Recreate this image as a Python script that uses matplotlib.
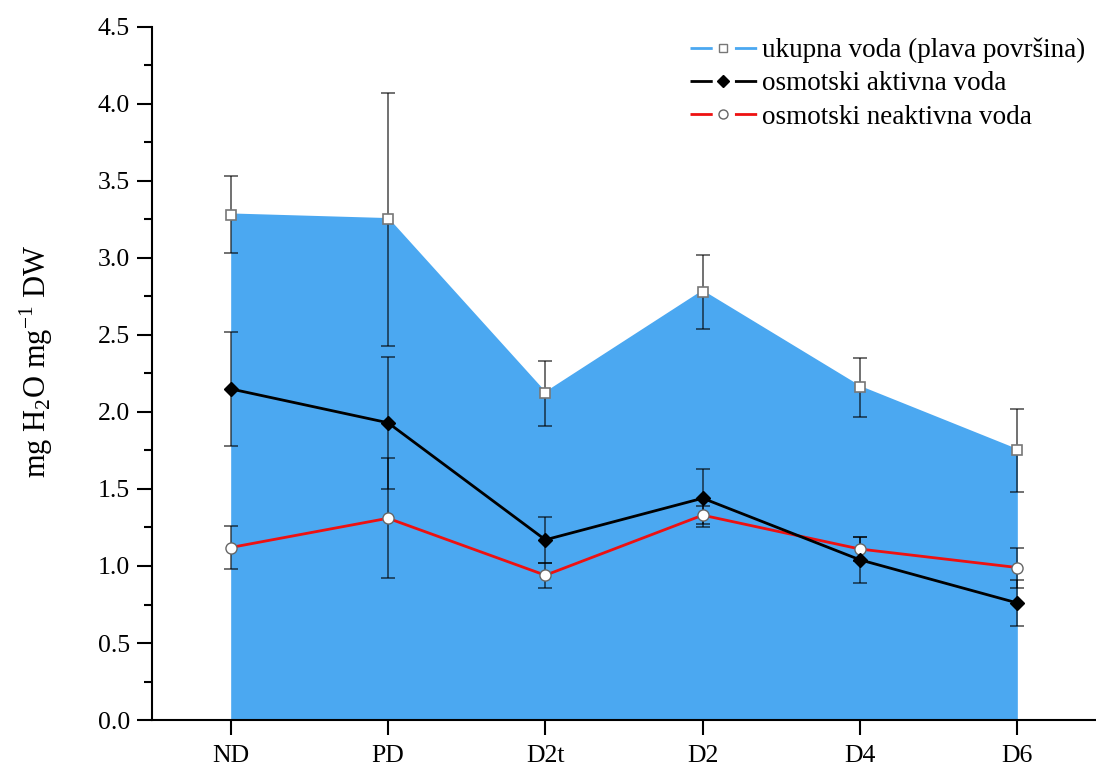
import numpy as np
import matplotlib
matplotlib.use("Agg")
import matplotlib.pyplot as plt
from matplotlib.ticker import MultipleLocator, FormatStrFormatter
from matplotlib.lines import Line2D

plt.rcParams['font.family'] = ['Liberation Serif', 'DejaVu Serif']
plt.rcParams['mathtext.fontset'] = 'custom'
plt.rcParams['mathtext.rm'] = 'Liberation Serif'

# dati
categorie = ["ND", "PD", "D2t", "D2", "D4", "D6"]
ukupna = [3.28, 3.25, 2.12, 2.78, 2.16, 1.75]
ukupna_err = [0.25, 0.82, 0.21, 0.24, 0.19, 0.27]
aktivna = [2.15, 1.93, 1.17, 1.44, 1.04, 0.76]
aktivna_err = [0.37, 0.43, 0.15, 0.19, 0.15, 0.15]
neaktivna = [1.12, 1.31, 0.94, 1.33, 1.11, 0.99]
neaktivna_err = [0.14, 0.39, 0.08, 0.06, 0.08, 0.13]

x = np.arange(len(categorie))
plava = "#4BA8F1"
crvena = "#ee1111"

fig = plt.figure(figsize=(10.96, 7.65), dpi=100)
ax = fig.add_axes([0.1387, 0.0588, 0.8613, 0.906])

ax.fill_between(x, 0, ukupna, color=plava, lw=0, zorder=1)

eb_kw = dict(fmt="none", ecolor="black", alpha=0.6, elinewidth=1.3,
             capsize=5, capthick=1.3, zorder=2)
ax.errorbar(x, ukupna, yerr=ukupna_err, **eb_kw)
ax.errorbar(x, aktivna, yerr=aktivna_err, **eb_kw)
ax.errorbar(x, neaktivna, yerr=neaktivna_err, **eb_kw)

ax.plot(x, ukupna, color=plava, lw=2, marker="s", ms=7, mfc="white",
        mec="#777777", mew=1.2, zorder=3)
ax.plot(x, aktivna, color="black", lw=2, marker="D", ms=7.5, mfc="black",
        mec="black", zorder=4)
ax.plot(x, neaktivna, color=crvena, lw=2, marker="o", ms=8, mfc="white",
        mec="#666666", mew=1.0, zorder=3)

ax.set_xlim(-0.5, 5.5)
ax.set_ylim(0, 4.5)
ax.set_xticks(x)
ax.set_xticklabels(categorie)
ax.yaxis.set_major_locator(MultipleLocator(0.5))
ax.yaxis.set_minor_locator(MultipleLocator(0.25))
ax.yaxis.set_major_formatter(FormatStrFormatter("%.1f"))

for s in ["top", "right"]:
    ax.spines[s].set_visible(False)
for s in ["left", "bottom"]:
    ax.spines[s].set_linewidth(1.5)

ax.tick_params(axis="both", which="major", direction="out", length=11, width=1.5,
               labelsize=18.5)
ax.tick_params(axis="x", which="major", pad=7)
ax.tick_params(axis="y", which="major", pad=5)
ax.tick_params(axis="y", which="minor", direction="out", length=6, width=1.5)

ax.set_ylabel(r"mg H$_2$O mg$^{-1}$ DW", fontsize=22)
ax.yaxis.set_label_coords(-0.103, 0.518)

# legenda: linea interrotta attorno al marker
crtica = (0, (8, 8))
handles = [
    Line2D([], [], color=plava, lw=2, ls=crtica, marker="s", ms=6, mfc="white",
           mec="#777777", mew=1.0),
    Line2D([], [], color="black", lw=2, ls=crtica, marker="D", ms=6.5, mfc="black",
           mec="black"),
    Line2D([], [], color=crvena, lw=2, ls=crtica, marker="o", ms=6.5, mfc="white",
           mec="#666666", mew=1.0),
]
labels = ["ukupna voda (plava površina)", "osmotski aktivna voda",
          "osmotski neaktivna voda"]
ax.legend(handles, labels, loc="upper right", bbox_to_anchor=(1.0, 1.0),
          frameon=False, fontsize=19.5, handlelength=2.45, handletextpad=0.2,
          labelspacing=0.3, borderaxespad=0.0)

fig.savefig("out.png", dpi=100)
